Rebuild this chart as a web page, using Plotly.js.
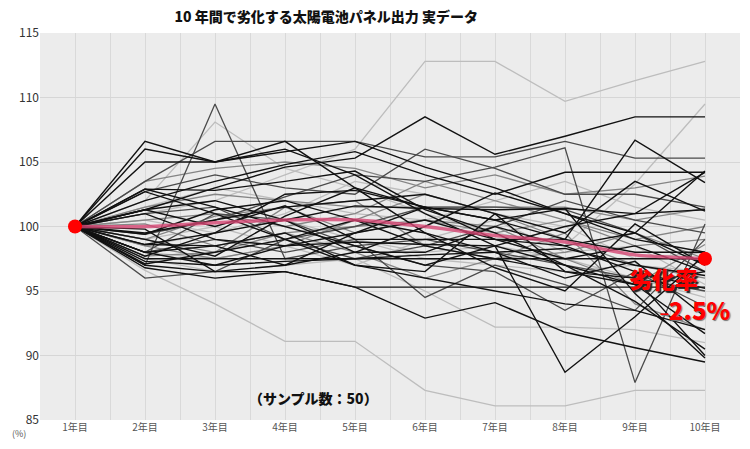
<!DOCTYPE html>
<html>
<head>
<meta charset="utf-8">
<script src="https://cdn.plot.ly/plotly-3.0.1.min.js"></script>
<style>
  html, body { margin: 0; padding: 0; background: #fff; }
  #chart { width: 750px; height: 449px; }
</style>
</head>
<body>
<div id="chart"></div>
<script>
// x categories
var years = ["1年目", "2年目", "3年目", "4年目", "5年目", "6年目", "7年目", "8年目", "9年目", "10年目"];

// output (%) per sample, grouped by line colour
var blackSeries = [
  [100, 106.6, 105.0, 106.6, 103.0, 101.5, 99.0, 98.5, 96.5, 95.2],
  [100, 106.0, 105.0, 105.8, 106.6, 104.6, 103.0, 101.0, 99.0, 98.0],
  [100, 105.0, 105.0, 106.0, 104.0, 101.0, 98.5, 97.0, 95.5, 91.7],
  [100, 102.9, 102.8, 103.5, 104.3, 101.3, 99.5, 97.0, 94.2, 90.5],
  [100, 101.3, 103.0, 104.6, 105.3, 108.5, 105.6, 107.0, 108.5, 108.5],
  [100, 102.0, 103.5, 104.8, 105.8, 104.0, 102.5, 104.2, 104.2, 104.2],
  [100, 97.5, 97.5, 97.5, 97.5, 97.5, 97.5, 97.5, 97.5, 97.5],
  [100, 97.0, 96.5, 96.5, 95.3, 95.3, 95.3, 95.3, 95.3, 95.3],
  [100, 96.8, 96.0, 96.5, 95.3, 92.9, 94.1, 91.8, 90.6, 89.5],
  [100, 98.0, 97.0, 98.5, 98.8, 98.6, 98.5, 88.7, 93.0, 97.8],
  [100, 101.0, 99.0, 98.5, 99.5, 101.5, 100.5, 99.0, 106.7, 103.4],
  [100, 99.5, 100.5, 101.5, 102.0, 102.5, 101.0, 99.5, 103.5, 101.2],
  [100, 98.6, 98.5, 97.0, 98.0, 100.0, 102.6, 101.0, 99.5, 104.3],
  [100, 99.4, 101.3, 102.0, 100.5, 99.5, 98.0, 96.0, 97.3, 93.0],
  [100, 97.3, 97.0, 97.3, 97.5, 97.8, 98.0, 98.3, 97.0, 96.2],
  [100, 101.3, 100.0, 101.6, 99.0, 99.0, 99.0, 99.0, 98.0, 98.0],
  [100, 97.7, 99.5, 100.5, 101.6, 101.4, 101.3, 101.4, 94.8, 89.8],
  [100, 98.0, 98.5, 99.5, 97.0, 96.0, 95.0, 94.0, 93.5, 92.0],
  [100, 102.7, 101.0, 99.0, 97.0, 96.5, 101.0, 96.5, 95.5, 96.5],
  [100, 99.0, 97.7, 100.8, 103.0, 99.5, 96.8, 95.0, 100.2, 97.0],
  [100, 102.9, 101.5, 100.0, 98.5, 97.0, 98.5, 100.0, 101.0, 101.3],
  [100, 97.1, 98.0, 99.0, 100.5, 98.5, 97.5, 96.5, 96.0, 90.0],
  [100, 98.6, 99.5, 102.5, 102.8, 101.5, 100.5, 101.4, 101.0, 104.2],
  [100, 101.3, 102.0, 100.5, 98.0, 98.0, 100.0, 98.5, 99.5, 97.0],
  [100, 99.8, 96.5, 97.0, 99.5, 100.5, 99.0, 97.5, 98.5, 96.5]
];

var darkSeries = [
  [100, 97.0, 109.5, 97.5, 98.5, 99.0, 98.0, 97.0, 96.0, 95.0],
  [100, 103.5, 106.6, 106.6, 106.6, 105.4, 105.4, 106.6, 105.3, 105.3],
  [100, 102.7, 104.0, 103.0, 102.5, 106.0, 104.5, 102.5, 102.5, 101.5],
  [100, 99.4, 100.5, 102.3, 104.0, 103.5, 104.6, 106.1, 87.9, 100.2],
  [100, 98.0, 99.0, 98.0, 99.0, 94.5, 97.0, 95.5, 93.5, 99.0],
  [100, 96.0, 96.5, 99.0, 100.0, 101.5, 101.5, 101.3, 99.5, 96.5],
  [100, 101.0, 101.5, 99.0, 97.5, 98.5, 100.0, 102.0, 100.5, 99.5],
  [100, 98.0, 101.0, 100.5, 98.5, 97.0, 96.5, 93.5, 96.5, 93.8]
];

var midSeries = [
  [100, 103.5, 104.5, 105.0, 104.5, 103.0, 104.0, 102.5, 103.0, 103.9],
  [100, 101.5, 102.5, 102.0, 101.5, 101.5, 101.5, 101.5, 100.5, 101.4],
  [100, 99.0, 100.8, 101.5, 99.5, 100.5, 100.0, 97.5, 95.5, 98.6],
  [100, 98.5, 97.5, 98.5, 100.5, 102.5, 101.0, 99.0, 97.0, 96.0],
  [100, 97.7, 98.0, 99.5, 98.0, 96.0, 97.5, 99.5, 94.0, 92.0],
  [100, 100.5, 101.0, 100.0, 101.0, 103.5, 102.0, 100.5, 98.5, 99.0],
  [100, 99.0, 98.0, 101.5, 102.0, 98.5, 97.5, 98.0, 99.5, 97.5],
  [100, 100.2, 98.5, 99.5, 100.0, 100.5, 99.5, 100.5, 99.0, 100.0]
];

var lightSeries = [
  [100, 101.0, 102.0, 104.0, 106.0, 112.8, 112.8, 109.7, 111.3, 112.8],
  [100, 102.0, 108.1, 104.5, 103.0, 101.0, 99.5, 98.5, 103.3, 109.5],
  [100, 96.6, 94.0, 91.1, 91.1, 87.3, 86.1, 86.1, 87.3, 87.3],
  [100, 97.5, 96.5, 97.0, 97.5, 95.0, 92.2, 92.2, 92.0, 91.0],
  [100, 98.5, 99.5, 100.5, 99.0, 98.0, 98.5, 97.5, 96.0, 94.5],
  [100, 101.5, 103.0, 102.0, 101.0, 100.5, 102.0, 103.5, 101.5, 100.5],
  [100, 99.0, 100.0, 98.5, 97.0, 99.0, 100.5, 98.0, 98.5, 95.5],
  [100, 98.0, 97.5, 98.5, 99.0, 97.5, 97.0, 96.5, 97.0, 96.5],
  [100, 100.5, 99.5, 101.0, 103.5, 102.5, 101.0, 100.0, 97.5, 98.0]
];

// average line (pink)
var averageLine = [100, 100, 100.3, 100.5, 100.5, 100, 99.3, 98.8, 97.8, 97.5];

var yTicks = [85, 90, 95, 100, 105, 110, 115];

var xIdx = years.map(function (_, i) { return i; });
var data = [];

function addGroup(group, color, w) {
  group.forEach(function (ys) {
    data.push({
      x: xIdx, y: ys, type: "scatter", mode: "lines",
      line: {color: color, width: w}, hoverinfo: "skip", showlegend: false
    });
  });
}
addGroup(lightSeries, "#bdbdbd", 1.3);
addGroup(midSeries, "#858585", 1.3);
addGroup(darkSeries, "#4a4a4a", 1.3);
addGroup(blackSeries, "#111111", 1.4);

data.push({
  x: xIdx, y: averageLine, type: "scatter", mode: "lines",
  line: {color: "rgba(214,70,115,0.8)", width: 3.5, shape: "spline", smoothing: 0.6},
  showlegend: false
});
var last = averageLine.length - 1;
data.push({
  x: [xIdx[0], xIdx[last]], y: [averageLine[0], averageLine[last]],
  type: "scatter", mode: "markers",
  marker: {color: "#ff0000", size: 14},
  showlegend: false
});

var layout = {
  width: 750, height: 449,
  margin: {l: 40, r: 10, t: 33, b: 29},
  paper_bgcolor: "#ffffff",
  plot_bgcolor: "#ececec",
  font: {family: "'Noto Sans CJK JP', 'Noto Sans', sans-serif", color: "#333"},
  title: {
    text: "10 年間で劣化する太陽電池パネル出力 実データ",
    font: {size: 14, color: "#111", weight: 900},
    x: 0.435, xanchor: "center", y: 0.962, yanchor: "middle"
  },
  xaxis: {
    range: [-0.5, 9.5],
    tickmode: "array", tickvals: xIdx, ticktext: years,
    tickfont: {size: 10, color: "#555"},
    showgrid: true, gridcolor: "#d9d9d9", gridwidth: 1,
    minor: {tickmode: "linear", tick0: 0.5, dtick: 1, showgrid: true, gridcolor: "#d9d9d9", gridwidth: 1},
    zeroline: false, showline: false, ticks: ""
  },
  yaxis: {
    range: [85, 115],
    tickmode: "array", tickvals: yTicks,
    tickfont: {size: 12, color: "#333"},
    showgrid: true, gridcolor: "#d6d6d6", gridwidth: 1,
    zeroline: false, showline: false, ticks: ""
  },
  annotations: [
    {
      text: "(%)", xref: "paper", yref: "paper", x: -0.03, y: -0.035,
      xanchor: "center", yanchor: "middle", showarrow: false,
      font: {size: 9, color: "#555"}
    },
    {
      text: "（サンプル数：50）", xref: "x", yref: "y", x: 3.4, y: 86.7,
      xanchor: "center", yanchor: "middle", showarrow: false,
      font: {size: 14, color: "#111", weight: 900}
    },
    {
      text: "劣化率", xref: "x", yref: "y", x: 8.4, y: 96.0,
      xanchor: "center", yanchor: "middle", showarrow: false,
      font: {size: 23, color: "#ff0000", weight: 900, shadow: "2px 2px 1px #222"}
    },
    {
      text: "<span style='font-size:15px;font-weight:700'>−</span>2.5%", xref: "x", yref: "y", x: 8.85, y: 93.6,
      xanchor: "center", yanchor: "middle", showarrow: false,
      font: {size: 24, color: "#ff0000", weight: 900, shadow: "1px 1px 1px #777"}
    }
  ]
};

Plotly.newPlot("chart", data, layout, {displayModeBar: false, staticPlot: true});
</script>
</body>
</html>
